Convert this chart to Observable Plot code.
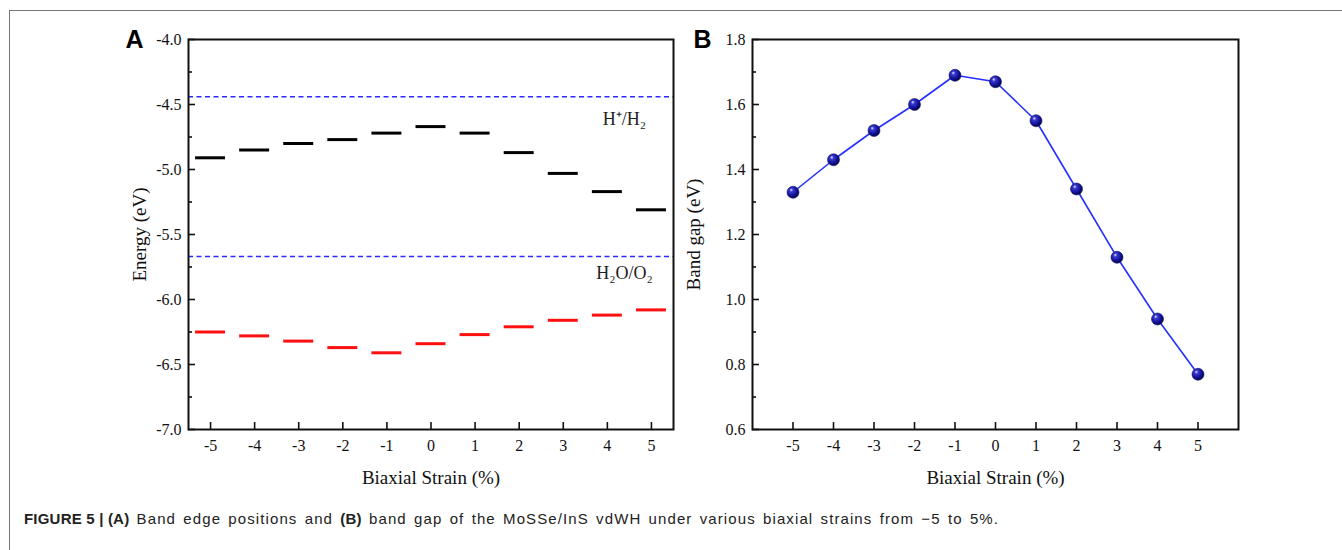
<!DOCTYPE html>
<html>
<head>
<meta charset="utf-8">
<script src="https://cdn.jsdelivr.net/npm/d3@7"></script>
<script src="https://cdn.jsdelivr.net/npm/@observablehq/plot@0.6"></script>
<style>
  html, body { margin: 0; padding: 0; background: #fff; }
  #wrap { position: relative; width: 1342px; height: 550px; overflow: hidden; background: #fff; }
  #border { position: absolute; left: 9px; top: 10px; right: -5px; bottom: -5px; border-top: 1.5px solid #777; border-left: 1.5px solid #777; }
  #panelA { position: absolute; left: 0; top: 0; }
  #panelB { position: absolute; left: 680px; top: 0; }
  #caption { position: absolute; left: 24px; top: 510px; font-family: "Liberation Sans", Arial, sans-serif; font-size: 15px; color: #222; white-space: nowrap; }
  #caption b { font-weight: bold; letter-spacing: 0.2px; }
  #caption span { letter-spacing: 1.1px; word-spacing: 2px; }
  #wrap svg g[aria-label$="tick-label"], #wrap svg g[aria-label$="tick-label"] text { font-family: "Liberation Serif", "Times New Roman", serif !important; font-variant: normal !important; font-size: 16px; }
</style>
</head>
<body>
<div id="wrap">
  <div id="border"></div>
  <div id="panelA"></div>
  <div id="panelB"></div>
  <div id="caption"><b>FIGURE 5 | (A)</b><span> Band edge positions and </span><b>(B)</b><span> band gap of the MoSSe/InS vdWH under various biaxial strains from −5 to 5%.</span></div>
</div>
<script>
// ---- data ----
const strain = [-5, -4, -3, -2, -1, 0, 1, 2, 3, 4, 5];
const cbm = [-4.91, -4.85, -4.80, -4.77, -4.72, -4.67, -4.72, -4.87, -5.03, -5.17, -5.31];
const vbm = [-6.25, -6.28, -6.32, -6.37, -6.41, -6.34, -6.27, -6.21, -6.16, -6.12, -6.08];
const redoxLabels = ["H⁺/H₂", "H₂O/O₂"];
const redoxValues = [-4.44, -5.67];
const bandGap = [1.33, 1.43, 1.52, 1.60, 1.69, 1.67, 1.55, 1.34, 1.13, 0.94, 0.77];
const energyTicks = [-7.0, -6.5, -6.0, -5.5, -5.0, -4.5, -4.0];
const energyMinor = [-6.75, -6.25, -5.75, -5.25, -4.75, -4.25];
const gapTicks = [0.6, 0.8, 1.0, 1.2, 1.4, 1.6, 1.8];
const gapMinor = [0.7, 0.9, 1.1, 1.3, 1.5, 1.7];
const strainTicks = [-5, -4, -3, -2, -1, 0, 1, 2, 3, 4, 5];

const cbmData = strain.map((s, i) => ({s, e: cbm[i]}));
const vbmData = strain.map((s, i) => ({s, e: vbm[i]}));
const redox = redoxLabels.map((label, i) => ({label, e: redoxValues[i]}));
const gapData = strain.map((s, i) => ({s, g: bandGap[i]}));

const half = 0.34;
const serif = "'Liberation Serif', 'Times New Roman', serif";
const sans = "'Liberation Sans', Arial, sans-serif";
const fmt1 = d => d.toFixed(1);

function axes(yTicks, yMinor, yFmt) {
  return [
    Plot.axisY(yTicks, {label: null, tickSize: -7, tickPadding: 14, tickFormat: yFmt, strokeWidth: 1.6, fontSize: 16, fontFamily: serif, fill: "#111"}),
    Plot.axisY(yMinor, {label: null, tickSize: -4, tickPadding: 0, tickFormat: () => "", strokeWidth: 1.6}),
    Plot.axisX(strainTicks, {label: null, tickSize: -7, tickPadding: 17, tickFormat: d => String(d), strokeWidth: 1.6, fontSize: 16, fontFamily: serif, fill: "#111"}),
    Plot.frame({stroke: "#111", strokeWidth: 2})
  ];
}

function titles(yLabel, yOffset, letter, letterOffset) {
  return [
    Plot.text([yLabel], {frameAnchor: "left", dx: -yOffset, rotate: -90, textAnchor: "middle", lineAnchor: "middle", fontSize: 19, fill: "#111", fontFamily: serif}),
    Plot.text(["Biaxial Strain (%)"], {frameAnchor: "bottom", dy: 48, textAnchor: "middle", lineAnchor: "middle", fontSize: 19, fill: "#111", fontFamily: serif}),
    Plot.text([letter], {frameAnchor: "top-left", dx: -letterOffset, dy: 0, textAnchor: "middle", lineAnchor: "middle", fontSize: 25, fontWeight: "bold", fill: "#000", fontFamily: sans})
  ];
}

const redoxText = (d, dy) => Plot.text([d], {y: "e", text: "label", frameAnchor: "right", dx: -49, dy, textAnchor: "middle", lineAnchor: "middle", fontSize: 18, fill: "#222", fontFamily: serif});

const plotA = Plot.plot({
  width: 680, height: 490,
  marginLeft: 188, marginRight: 7, marginTop: 39, marginBottom: 61,
  style: {fontFamily: serif, fontSize: "16px", color: "#111", background: "transparent"},
  x: {domain: [-5.5, 5.5]},
  y: {domain: [-7, -4]},
  marks: [
    Plot.ruleY(redox, {y: "e", stroke: "#2b2bff", strokeWidth: 1.5, strokeDasharray: "5,3.5"}),
    redoxText(redox[0], 23),
    redoxText(redox[1], 17),
    Plot.ruleY(cbmData, {y: "e", x1: d => d.s - half, x2: d => d.s + half, stroke: "#000", strokeWidth: 3}),
    Plot.ruleY(vbmData, {y: "e", x1: d => d.s - half, x2: d => d.s + half, stroke: "#ff1010", strokeWidth: 3}),
    ...axes(energyTicks, energyMinor, fmt1),
    ...titles("Energy (eV)", 49, "A", 54)
  ]
});
document.getElementById("panelA").appendChild(plotA);

const plotB = Plot.plot({
  width: 662, height: 490,
  marginLeft: 72, marginRight: 104, marginTop: 39, marginBottom: 61,
  style: {fontFamily: serif, fontSize: "16px", color: "#111", background: "transparent"},
  x: {domain: [-6, 6]},
  y: {domain: [0.6, 1.8]},
  marks: [
    Plot.line(gapData, {x: "s", y: "g", stroke: "#2530ff", strokeWidth: 1.6}),
    Plot.dot(gapData, {x: "s", y: "g", r: 6, fill: "url(#ball)", stroke: "#10106a", strokeWidth: 0.6}),
    ...axes(gapTicks, gapMinor, fmt1),
    ...titles("Band gap (eV)", 59, "B", 50)
  ]
});
// radial gradient for the sphere markers
const defs = d3.select(plotB).insert("defs", ":first-child");
const grad = defs.append("radialGradient").attr("id", "ball").attr("cx", "40%").attr("cy", "38%").attr("r", "60%").attr("fx", "35%").attr("fy", "30%");
grad.append("stop").attr("offset", "0%").attr("stop-color", "#e8e8ff");
grad.append("stop").attr("offset", "25%").attr("stop-color", "#3a3ad0");
grad.append("stop").attr("offset", "70%").attr("stop-color", "#12129a");
grad.append("stop").attr("offset", "100%").attr("stop-color", "#06064a");
document.getElementById("panelB").appendChild(plotB);
</script>
</body>
</html>
